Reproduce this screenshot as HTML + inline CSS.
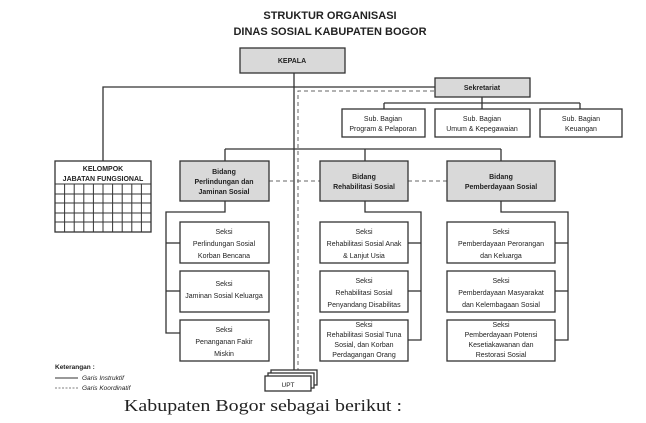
<!DOCTYPE html>
<html><head><meta charset="utf-8"><style>
html,body{margin:0;padding:0;background:#fff;}
svg{display:block;}
text{font-family:"Liberation Sans",sans-serif;fill:#222;}
</style></head><body>
<svg width="646" height="423" viewBox="0 0 646 423" xmlns="http://www.w3.org/2000/svg">
<g text-anchor="middle" font-weight="bold" font-size="11">
<text x="330" y="19">STRUKTUR ORGANISASI</text>
<text x="330" y="35">DINAS SOSIAL KABUPATEN BOGOR</text>
</g>
<g stroke="#333" stroke-width="1.3" fill="none">
<line x1="294" y1="73" x2="294" y2="372"/>
<polyline points="103,161 103,87 435,87"/>
<polyline points="482,97 482,103"/>
<line x1="384" y1="103" x2="580" y2="103"/>
<line x1="384" y1="103" x2="384" y2="109"/>
<line x1="482" y1="103" x2="482" y2="109"/>
<line x1="580" y1="103" x2="580" y2="109"/>
<line x1="225" y1="149" x2="501" y2="149"/>
<line x1="225" y1="149" x2="225" y2="161"/>
<line x1="365" y1="149" x2="365" y2="161"/>
<line x1="501" y1="149" x2="501" y2="161"/>
<polyline points="225,201 225,212 166,212 166,333 180,333"/>
<line x1="166" y1="243" x2="180" y2="243"/>
<line x1="166" y1="291" x2="180" y2="291"/>
<polyline points="365,201 365,212 421,212 421,340 408,340"/>
<line x1="408" y1="243" x2="421" y2="243"/>
<line x1="408" y1="291" x2="421" y2="291"/>
<polyline points="501,201 501,212 568,212 568,340 555,340"/>
<line x1="555" y1="243" x2="568" y2="243"/>
<line x1="555" y1="291" x2="568" y2="291"/>
</g>
<g stroke="#666" stroke-width="1" fill="none" stroke-dasharray="4,3">
<polyline points="298,372 298,91 435,91"/>
<line x1="269" y1="181" x2="320" y2="181"/>
<line x1="408" y1="181" x2="447" y2="181"/>
</g>
<g stroke="#333" stroke-width="1.3">
<rect x="240" y="48" width="105" height="25" fill="#d9d9d9"/>
<rect x="435" y="78" width="95" height="19" fill="#d9d9d9"/>
<rect x="342" y="109" width="83" height="28" fill="#fff"/>
<rect x="435" y="109" width="95" height="28" fill="#fff"/>
<rect x="540" y="109" width="82" height="28" fill="#fff"/>
<rect x="180" y="161" width="89" height="40" fill="#d9d9d9"/>
<rect x="320" y="161" width="88" height="40" fill="#d9d9d9"/>
<rect x="447" y="161" width="108" height="40" fill="#d9d9d9"/>
<rect x="55" y="161" width="96" height="71" fill="#fff"/>
<rect x="180" y="222" width="89" height="41" fill="#fff"/>
<rect x="180" y="271" width="89" height="41" fill="#fff"/>
<rect x="180" y="320" width="89" height="41" fill="#fff"/>
<rect x="320" y="222" width="88" height="41" fill="#fff"/>
<rect x="320" y="271" width="88" height="41" fill="#fff"/>
<rect x="320" y="320" width="88" height="41" fill="#fff"/>
<rect x="447" y="222" width="108" height="41" fill="#fff"/>
<rect x="447" y="271" width="108" height="41" fill="#fff"/>
<rect x="447" y="320" width="108" height="41" fill="#fff"/>
<rect x="271" y="370" width="46" height="15" fill="#fff"/>
<rect x="268" y="373" width="46" height="15" fill="#fff"/>
<rect x="265" y="376" width="46" height="15" fill="#fff"/>
</g>
<g stroke="#333" stroke-width="1">
<line x1="55" y1="184" x2="151" y2="184"/>
<line x1="55" y1="194" x2="151" y2="194"/>
<line x1="55" y1="203" x2="151" y2="203"/>
<line x1="55" y1="213" x2="151" y2="213"/>
<line x1="55" y1="222" x2="151" y2="222"/>
<line x1="64.6" y1="184" x2="64.6" y2="232"/>
<line x1="74.2" y1="184" x2="74.2" y2="232"/>
<line x1="83.8" y1="184" x2="83.8" y2="232"/>
<line x1="93.4" y1="184" x2="93.4" y2="232"/>
<line x1="103" y1="184" x2="103" y2="232"/>
<line x1="112.6" y1="184" x2="112.6" y2="232"/>
<line x1="122.2" y1="184" x2="122.2" y2="232"/>
<line x1="131.8" y1="184" x2="131.8" y2="232"/>
<line x1="141.4" y1="184" x2="141.4" y2="232"/>
</g>
<g text-anchor="middle" font-size="7" font-weight="bold">
<text x="292" y="63">KEPALA</text>
<text x="482" y="90">Sekretariat</text>
<text x="103" y="171">KELOMPOK</text>
<text x="103" y="181">JABATAN FUNGSIONAL</text>
<text x="224" y="174">Bidang</text>
<text x="224" y="184">Perlindungan dan</text>
<text x="224" y="194">Jaminan Sosial</text>
<text x="364" y="179">Bidang</text>
<text x="364" y="189">Rehabilitasi Sosial</text>
<text x="501" y="179">Bidang</text>
<text x="501" y="189">Pemberdayaan Sosial</text>
</g>
<g text-anchor="middle" font-size="7">
<text x="383" y="121">Sub. Bagian</text>
<text x="383" y="131">Program &amp; Pelaporan</text>
<text x="482" y="121">Sub. Bagian</text>
<text x="482" y="131">Umum &amp; Kepegawaian</text>
<text x="581" y="121">Sub. Bagian</text>
<text x="581" y="131">Keuangan</text>
<text x="224" y="234">Seksi</text>
<text x="224" y="246">Perlindungan Sosial</text>
<text x="224" y="258">Korban Bencana</text>
<text x="224" y="286">Seksi</text>
<text x="224" y="298">Jaminan Sosial Keluarga</text>
<text x="224" y="332">Seksi</text>
<text x="224" y="344">Penanganan Fakir</text>
<text x="224" y="356">Miskin</text>
<text x="364" y="234">Seksi</text>
<text x="364" y="246">Rehabilitasi Sosial Anak</text>
<text x="364" y="258">&amp; Lanjut Usia</text>
<text x="364" y="283">Seksi</text>
<text x="364" y="295">Rehabilitasi Sosial</text>
<text x="364" y="307">Penyandang Disabilitas</text>
<text x="364" y="327">Seksi</text>
<text x="364" y="337">Rehabilitasi Sosial Tuna</text>
<text x="364" y="347">Sosial, dan Korban</text>
<text x="364" y="357">Perdagangan Orang</text>
<text x="501" y="234">Seksi</text>
<text x="501" y="246">Pemberdayaan Perorangan</text>
<text x="501" y="258">dan Keluarga</text>
<text x="501" y="283">Seksi</text>
<text x="501" y="295">Pemberdayaan Masyarakat</text>
<text x="501" y="307">dan Kelembagaan Sosial</text>
<text x="501" y="327">Seksi</text>
<text x="501" y="337">Pemberdayaan Potensi</text>
<text x="501" y="347">Kesetiakawanan dan</text>
<text x="501" y="357">Restorasi Sosial</text>
<text x="288" y="387" font-size="6.5">UPT</text>
</g>
<text x="55" y="369" font-size="6.5" font-weight="bold">Keterangan :</text>
<line x1="55" y1="378" x2="78" y2="378" stroke="#333" stroke-width="1"/>
<line x1="55" y1="388" x2="78" y2="388" stroke="#555" stroke-width="0.8" stroke-dasharray="2,1.5"/>
<text x="82" y="380" font-size="6.5" font-style="italic">Garis Instruktif</text>
<text x="82" y="390" font-size="6.5" font-style="italic">Garis Koordinatif</text>
<text x="124" y="411" font-size="17" textLength="278" lengthAdjust="spacingAndGlyphs" style="font-family:'Liberation Serif',serif">Kabupaten Bogor sebagai berikut :</text>
</svg>
</body></html>
